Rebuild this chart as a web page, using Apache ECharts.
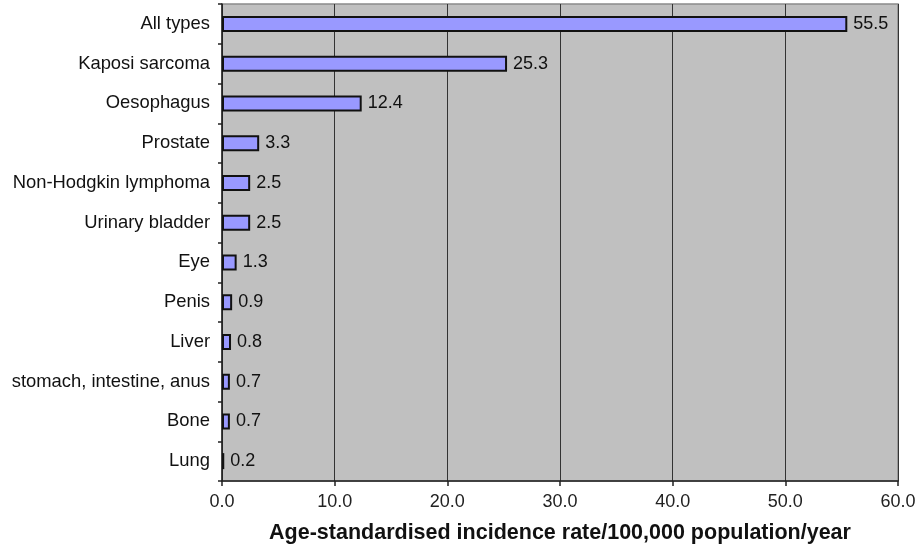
<!DOCTYPE html>
<html><head><meta charset="utf-8">
<script src="https://cdn.jsdelivr.net/npm/echarts@6/dist/echarts.min.js"></script>
<style>html,body{margin:0;padding:0;background:#fff}#c{width:921px;height:549px}</style>
</head><body><div id="c"></div>
<script>
const categories = ["All types","Kaposi sarcoma","Oesophagus","Prostate","Non-Hodgkin lymphoma","Urinary bladder","Eye","Penis","Liver","stomach, intestine, anus","Bone","Lung"];
const values = [55.5,25.3,12.4,3.3,2.5,2.5,1.3,0.9,0.8,0.7,0.7,0.2];
const xTicks = [0,10,20,30,40,50,60];
const xTitle = "Age-standardised incidence rate/100,000 population/year";
const font = "'Liberation Sans', Arial, Helvetica, sans-serif";
const chart = echarts.init(document.getElementById('c'));
chart.setOption({
  animation:false,
  backgroundColor:'#fff',
  textStyle:{fontFamily:font},
  grid:{left:222,right:23,top:4,bottom:67,show:true,backgroundColor:'#c0c0c0',borderColor:'#8a8a8a',borderWidth:1.5},
  xAxis:{type:'value',min:xTicks[0],max:xTicks[xTicks.length-1],interval:10,
    name:xTitle,nameLocation:'middle',nameGap:41,
    nameTextStyle:{fontSize:21.5,fontWeight:'bold',color:'#111',fontFamily:font},
    axisLine:{show:true,lineStyle:{color:'#222',width:1.5}},
    axisTick:{show:true,length:5,lineStyle:{color:'#222',width:1.5}},
    axisLabel:{fontSize:18,color:'#222',margin:12,formatter:v=>v.toFixed(1)},
    splitLine:{show:true,lineStyle:{color:'#333',width:1}}},
  yAxis:{type:'category',data:categories,inverse:true,
    axisLine:{show:true,lineStyle:{color:'#222',width:1.5}},
    axisTick:{show:true,length:4,lineStyle:{color:'#222',width:1.5}},
    axisLabel:{fontSize:18.4,color:'#111',margin:12}},
  series:[{type:'bar',data:values,barWidth:16,
    itemStyle:{color:'#9999ff',borderColor:'#111',borderWidth:2},
    label:{show:true,position:'right',distance:6,fontSize:18,color:'#111',formatter:p=>p.value.toFixed(1)}}]
});
</script></body></html>
